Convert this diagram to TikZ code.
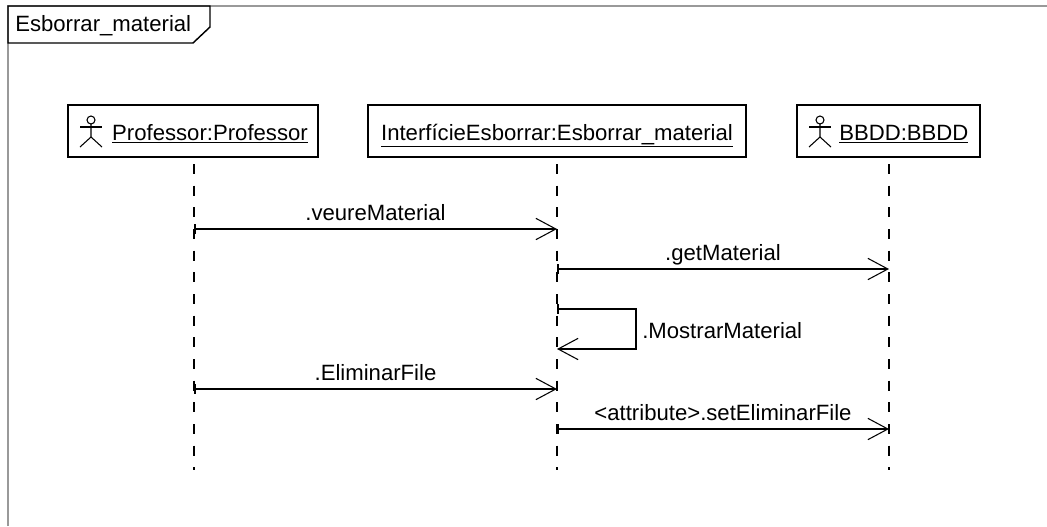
\documentclass[tikz,border=0pt]{standalone}
\usepackage{fontspec}
\setmainfont{Liberation Sans}
\usetikzlibrary{arrows.meta}

\tikzset{
  every node/.style={font=\fontsize{16.6}{18}\selectfont},
  lifebox/.style={draw, line width=1.1pt, fill=white, minimum height=39pt, inner sep=0pt, text height=15.5pt, text depth=2pt},
  lifeline/.style={line width=1pt, dash pattern=on 7.5pt off 8.75pt},
  message/.style={line width=1.1pt, {Bar[width=8pt,length=1.2pt]}-{Straight Barb[length=15pt,width=16pt,line width=.8pt]}},
  actor/.style={line width=.8pt},
  tag/.style={inner sep=0pt, text height=12pt, text depth=4pt},
  msglabel/.style={above=1.5pt, midway, inner sep=0pt, text depth=4pt}
}

\begin{document}
\begin{tikzpicture}[x=0.75pt, y=-0.75pt]
\useasboundingbox (0,0) rectangle (1047,526);

% Frame of the diagram
\draw [line width=1.6pt, black!40] (8,526) -- (8,6) -- (1047,6);

% Tab with the name
\node [tag, anchor=west] (frame-name) at (15,26) {Esborrar\_material};
\draw [line width=1.1pt] (8,6) -- (210,6) -- (210,27) -- (193,43) -- (8,43) -- cycle;

% Create the lifeline boxes
\node [lifebox, minimum width=187.5pt] (professor) at (193,131)
  {\hspace*{25.5pt}\underline{Professor:Professor}};
\node [lifebox, minimum width=283.5pt] (interficie) at (557,131)
  {\underline{InterfícieEsborrar:Esborrar\_material}};
\node [lifebox, minimum width=137pt] (bbdd) at (888.5,131)
  {\hspace*{23pt}\underline{BBDD:BBDD}};

% Points on the lifelines
\foreach \l/\x in {professor/194, interficie/557, bbdd/889} {
  \coordinate (\l-top) at (\x,164);
  \coordinate (\l-end) at (\x,470);
  \foreach \y [count=\m] in {229,269,309,349,389,429}
    \coordinate (\l-\m) at (\x,\y);
  \draw [lifeline] (\l-top) -- (\l-end);
}

% Draw the actors
\foreach \l/\x in {professor/91, bbdd/820} {
  \draw [actor] (\x,120) circle (4);
  \draw [actor] (\x,124) -- (\x,137) -- (\x-11,147);
  \draw [actor] (\x,137) -- (\x+11,147);
  \draw [actor] (\x-11,127) -- (\x+11,127);
}

% Messages
\draw [message] (professor-1) -- (interficie-1)
  node [msglabel] (veure) {.veureMaterial};
\draw [message] (interficie-2) -- (bbdd-2)
  node [msglabel] (get) {.getMaterial};
\coordinate (turn-a) at (636,309);
\coordinate (turn-b) at (636,349);
\draw [message] (interficie-3) -- (turn-a) -- (turn-b) -- (interficie-4);
\node [anchor=west, inner sep=0pt] (mostrar) at (642,331) {.MostrarMaterial};
\draw [message] (professor-5) -- (interficie-5)
  node [msglabel] (eliminar) {.EliminarFile};
\draw [message] (interficie-6) -- (bbdd-6)
  node [msglabel] (set) {<attribute>.setEliminarFile};

\end{tikzpicture}
\end{document}
